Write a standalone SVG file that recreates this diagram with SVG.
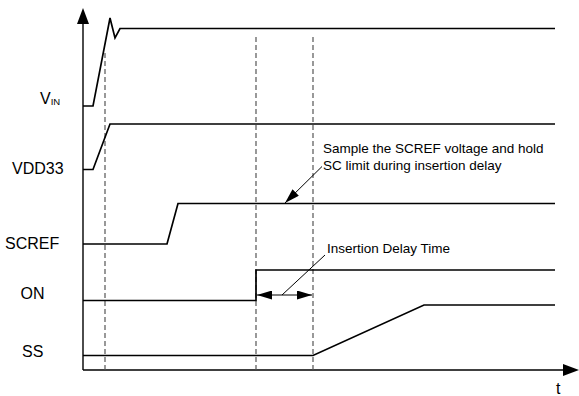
<svg xmlns="http://www.w3.org/2000/svg" width="579" height="396" viewBox="0 0 579 396">
<style>
.sig{fill:none;stroke:#000;stroke-width:1.7;stroke-linejoin:miter}
.axis{fill:none;stroke:#000;stroke-width:1.4}
.dash{fill:none;stroke:#555;stroke-width:1.2;stroke-dasharray:5,3}
.lead{fill:none;stroke:#000;stroke-width:1}
.lbl{font-family:"Liberation Sans",Arial,sans-serif;font-size:16px;fill:#000}
.ann{font-family:"Liberation Sans",Arial,sans-serif;font-size:13.5px;fill:#000}
</style>
<defs>
<marker id="ah" viewBox="0 0 15 9" refX="15" refY="4.5" markerWidth="15" markerHeight="9" markerUnits="userSpaceOnUse" orient="auto-start-reverse">
<path d="M0,0 L15,4.5 L0,9 Z" fill="#000"/>
</marker>
</defs>
<g id="axes">
<line class="axis" x1="83" y1="22" x2="83" y2="370"/>
<path d="M83,8 L89,24 L77,24 Z" fill="#000"/>
<line class="axis" x1="83" y1="370" x2="565" y2="370"/>
<path d="M579,370 L563,364 L563,376 Z" fill="#000"/>
<text class="lbl" x="556" y="394">t</text>
</g>
<g id="guides">
<line class="dash" x1="105" y1="53" x2="105" y2="370" stroke="#888"/>
<line class="dash" x1="256" y1="37" x2="256" y2="370"/>
<line class="dash" x1="313" y1="37" x2="313" y2="370"/>
</g>
<g id="vin">
<polyline class="sig" points="83,106 93,106 110,18 115,38 120,28.5 555,28.5"/>
<text class="lbl" x="40" y="104">V<tspan font-size="9.5" dy="1">IN</tspan></text>
</g>
<g id="vdd33">
<polyline class="sig" points="83,169.5 93,169.5 110,124 555,124"/>
<text class="lbl" x="12" y="174">VDD33</text>
</g>
<g id="scref">
<polyline class="sig" points="83,244 167,244 178,203.5 555,203.5"/>
<text class="lbl" x="5" y="249">SCREF</text>
</g>
<g id="on">
<polyline class="sig" points="83,300.5 256,300.5 256,270 555,270"/>
<text class="lbl" x="20.5" y="299">ON</text>
</g>
<g id="ss">
<polyline class="sig" points="83,355.5 313,355.5 424,305 555,305"/>
<text class="lbl" x="22" y="357">SS</text>
</g>
<g id="connectors">
<line class="lead" x1="322" y1="166.5" x2="285" y2="203" marker-end="url(#ah)"/>
<line class="lead" x1="257" y1="295" x2="312" y2="295" marker-start="url(#ah)" marker-end="url(#ah)"/>
<line class="lead" x1="325" y1="255" x2="282" y2="295"/>
</g>
<g id="annotations">
<text class="ann" x="323" y="153">Sample the SCREF voltage and hold</text>
<text class="ann" x="323" y="170">SC limit during insertion delay</text>
<text class="ann" x="327" y="253">Insertion Delay Time</text>
</g>
</svg>
